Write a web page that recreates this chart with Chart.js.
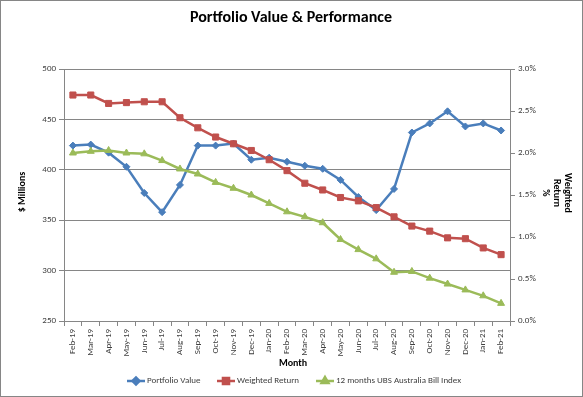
<!DOCTYPE html>
<html>
<head>
<meta charset="utf-8">
<script src="https://cdn.jsdelivr.net/npm/chart.js@4.4.1/dist/chart.umd.min.js"></script>
<style>
  body { margin: 0; background: #fff; }
  canvas { display: block; }
</style>
</head>
<body>
<canvas id="perfChart" width="583" height="397"></canvas>
<script>
const months = ['Feb-19', 'Mar-19', 'Apr-19', 'May-19', 'Jun-19', 'Jul-19', 'Aug-19', 'Sep-19', 'Oct-19',
    'Nov-19', 'Dec-19', 'Jan-20', 'Feb-20', 'Mar-20', 'Apr-20', 'May-20', 'Jun-20', 'Jul-20', 'Aug-20',
    'Sep-20', 'Oct-20', 'Nov-20', 'Dec-20', 'Jan-21', 'Feb-21'];
const portfolioValue = [424, 425, 417, 403, 377, 358, 385, 424, 424, 426, 410, 412, 408, 404, 401, 390,
    373, 360, 381, 437, 446, 458, 443, 446, 439];
const weightedReturn = [2.69, 2.69, 2.59, 2.60, 2.61, 2.61, 2.42, 2.30, 2.19, 2.11, 2.03, 1.92, 1.79, 1.64,
    1.56, 1.47, 1.43, 1.35, 1.24, 1.13, 1.07, 0.99, 0.98, 0.87, 0.79];
const ubsBillIndex = [2.00, 2.02, 2.03, 2.00, 1.99, 1.91, 1.81, 1.75, 1.65, 1.58, 1.50, 1.40, 1.30, 1.24,
    1.17, 0.97, 0.85, 0.74, 0.58, 0.59, 0.51, 0.44, 0.37, 0.30, 0.21];
const seriesNames = ['Portfolio Value', 'Weighted Return', '12 months UBS Australia Bill Index'];

const FONT = "Carlito, Lato, 'Liberation Sans', sans-serif";
const GRID = '#868686';
const TEXT = '#404040';
const COLORS = ['#4a7ebb', '#c0504d', '#9bbb59'];

// title, axis titles, legend and frame drawn by hand
const decorPlugin = {
    id: 'decor',
    beforeDraw(chart) {
        const ctx = chart.ctx;
        ctx.save();
        ctx.fillStyle = '#fff';
        ctx.fillRect(0, 0, chart.width, chart.height);
        ctx.restore();
    },
    afterDraw(chart) {
        const ctx = chart.ctx;
        ctx.save();
        ctx.strokeStyle = GRID;
        ctx.lineWidth = 1;
        ctx.strokeRect(0.5, 0.5, chart.width - 1, chart.height - 1);

        ctx.fillStyle = '#000';
        ctx.textAlign = 'center';
        ctx.textBaseline = 'middle';
        ctx.font = 'bold 16px ' + FONT;
        ctx.fillText('Portfolio Value & Performance', 291, 18);

        ctx.font = 'bold 10px ' + FONT;
        ctx.fillText('Month', 293, 363);

        ctx.save();
        ctx.translate(22, 192);
        ctx.rotate(-Math.PI / 2);
        ctx.fillText('$ Millions', 0, 0);
        ctx.restore();

        ctx.save();
        ctx.translate(556, 193);
        ctx.rotate(Math.PI / 2);
        ['Weighted', 'Return', '%'].forEach(function(t, i) {
            ctx.fillText(t, 0, -11 + i * 11);
        });
        ctx.restore();

        // legend
        const items = [
            { x: 127, style: 'rectRot', r: 3.5 },
            { x: 217, style: 'rect', r: 4.3 },
            { x: 316, style: 'triangle', r: 4 }
        ];
        const ly = 381;
        ctx.font = '9px ' + FONT;
        ctx.textAlign = 'left';
        items.forEach(function(it, i) {
            ctx.strokeStyle = COLORS[i];
            ctx.lineWidth = 2.5;
            ctx.beginPath();
            ctx.moveTo(it.x, ly);
            ctx.lineTo(it.x + 18, ly);
            ctx.stroke();
            ctx.fillStyle = COLORS[i];
            Chart.helpers.drawPoint(ctx, { pointStyle: it.style, radius: it.r, borderWidth: 1, rotation: 0 }, it.x + 9, ly);
            ctx.fill();
            ctx.fillStyle = TEXT;
            ctx.fillText(seriesNames[i], it.x + 20, ly);
        });
        ctx.restore();
    }
};

function lineSet(label, data, color, style, radius, axis, order) {
    return {
        label: label,
        data: data,
        yAxisID: axis,
        order: order,
        borderColor: color,
        backgroundColor: color,
        borderWidth: 2.5,
        pointStyle: style,
        pointRadius: radius,
        pointBorderWidth: 1,
        tension: 0
    };
}

const tickFont = { family: FONT, size: 9 };

const perfChart = new Chart(document.getElementById('perfChart'), {
    type: 'line',
    data: {
        labels: months,
        datasets: [
            lineSet(seriesNames[0], portfolioValue, COLORS[0], 'rectRot', 3.5, 'y', 3),
            lineSet(seriesNames[1], weightedReturn, COLORS[1], 'rect', 4.3, 'y1', 2),
            lineSet(seriesNames[2], ubsBillIndex, COLORS[2], 'triangle', 4, 'y1', 1)
        ]
    },
    options: {
        responsive: false,
        animation: false,
        layout: { padding: { top: 69, left: 0, right: 0, bottom: 0 } },
        plugins: {
            legend: { display: false },
            title: { display: false },
            tooltip: { enabled: false }
        },
        scales: {
            x: {
                offset: true,
                afterFit: function(s) { s.height = 76; },
                grid: { drawOnChartArea: false, offset: true, tickLength: 5, color: GRID },
                border: { color: GRID },
                ticks: { maxRotation: 90, minRotation: 90, autoSkip: false, padding: 3,
                    color: TEXT, font: tickFont }
            },
            y: {
                position: 'left',
                min: 250,
                max: 500,
                afterFit: function(s) { s.width = 64; },
                grid: { color: GRID, tickLength: 5 },
                border: { color: GRID },
                ticks: { stepSize: 50, padding: 3, color: TEXT, font: tickFont }
            },
            y1: {
                position: 'right',
                min: 0,
                max: 3,
                afterFit: function(s) { s.width = 73; },
                grid: { drawOnChartArea: false, color: GRID, tickLength: 5 },
                border: { color: GRID },
                ticks: {
                    stepSize: 0.5, padding: 3, color: TEXT, font: tickFont,
                    callback: function(v) { return v.toFixed(1) + '%'; }
                }
            }
        }
    },
    plugins: [decorPlugin]
});
</script>
</body>
</html>
